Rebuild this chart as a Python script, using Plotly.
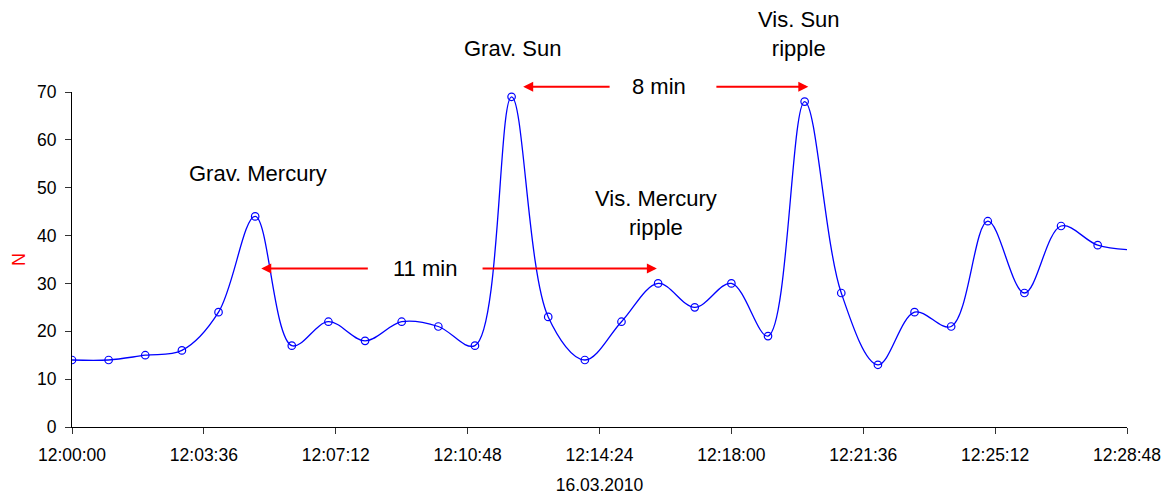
import plotly.graph_objects as go

DAY = "2010-03-16 "
times = ["12:00", "12:01", "12:02", "12:03", "12:04", "12:05", "12:06", "12:07", "12:08", "12:09",
         "12:10", "12:11", "12:12", "12:13", "12:14", "12:15", "12:16", "12:17", "12:18", "12:19",
         "12:20", "12:21", "12:22", "12:23", "12:24", "12:25", "12:26", "12:27", "12:28", "12:29"]
values = [14, 14, 15, 16, 24, 44, 17, 22, 18, 22,
          21, 17, 69, 23, 14, 22, 30, 25, 30, 19,
          68, 28, 13, 24, 21, 43, 28, 42, 38, 37]
tick_labels = ["12:00:00", "12:03:36", "12:07:12", "12:10:48", "12:14:24",
               "12:18:00", "12:21:36", "12:25:12", "12:28:48"]
x_title = "16.03.2010"
y_title = "N"
Y_MAX = 70

# annotation labels (text, time, N)
labels = [
    ("Grav. Mercury", "12:05:05", 52.9),
    ("Grav. Sun", "12:12:02", 79.0),
    ("Vis. Sun<br>ripple", "12:19:50", 82.2),
    ("Vis. Mercury<br>ripple", "12:15:57", 44.8),
    ("8 min", "12:16:01", 71.1),
    ("11 min", "12:09:38", 33.1),
]
# arrows (tail time, tip time, N)
arrows = [
    ("12:14:43", "12:12:19", 71.1),
    ("12:17:33", "12:20:06", 71.1),
    ("12:08:07", "12:05:10", 33.1),
    ("12:11:10", "12:15:58", 33.1),
]

FONT = "Arial, Liberation Sans, sans-serif"
x = [DAY + t + ":00" for t in times]

fig = go.Figure()
fig.add_trace(go.Scatter(
    x=x, y=values, mode="lines+markers",
    line=dict(color="#0000FF", width=1.3, shape="spline", smoothing=1.0),
    marker=dict(symbol="circle-open", size=7.5, color="#0000FF", line=dict(width=1.2)),
    showlegend=False,
))

annotations = []
for text, t, n in labels:
    annotations.append(dict(x=DAY + t, y=n / Y_MAX, xref="x", yref="paper", text=text,
                            showarrow=False, yanchor="middle",
                            font=dict(family=FONT, size=22, color="black")))
for tail, tip, n in arrows:
    annotations.append(dict(x=DAY + tip, y=n / Y_MAX, ax=DAY + tail, ay=0,
                            xref="x", yref="paper", axref="x", ayref="pixel",
                            text="", showarrow=True,
                            arrowhead=2, arrowsize=1, arrowwidth=2, arrowcolor="#FF0000",
                            standoff=0, startstandoff=0))

fig.update_layout(
    width=1169, height=498,
    margin=dict(l=72, r=42, t=92, b=71),
    paper_bgcolor="white", plot_bgcolor="white",
    font=dict(family=FONT, size=17.5, color="black"),
    annotations=annotations,
    xaxis=dict(
        range=[DAY + "12:00:00", DAY + "12:28:48"],
        tickvals=[DAY + t for t in tick_labels], ticktext=tick_labels,
        showgrid=False, zeroline=False, showline=True, linecolor="black", linewidth=1,
        ticks="outside", ticklen=6, tickcolor="#333333", ticklabelstandoff=6,
        title=dict(text=x_title, standoff=14, font=dict(size=17.5)),
        automargin=False,
    ),
    yaxis=dict(
        range=[0, Y_MAX], dtick=10,
        showgrid=False, zeroline=False, showline=True, linecolor="black", linewidth=1,
        ticks="outside", ticklen=6, tickcolor="#333333", ticklabelstandoff=5,
        title=dict(text=y_title, standoff=6, font=dict(size=18, color="#FF0000")),
        automargin=False,
    ),
)

fig.write_html("out.html")
